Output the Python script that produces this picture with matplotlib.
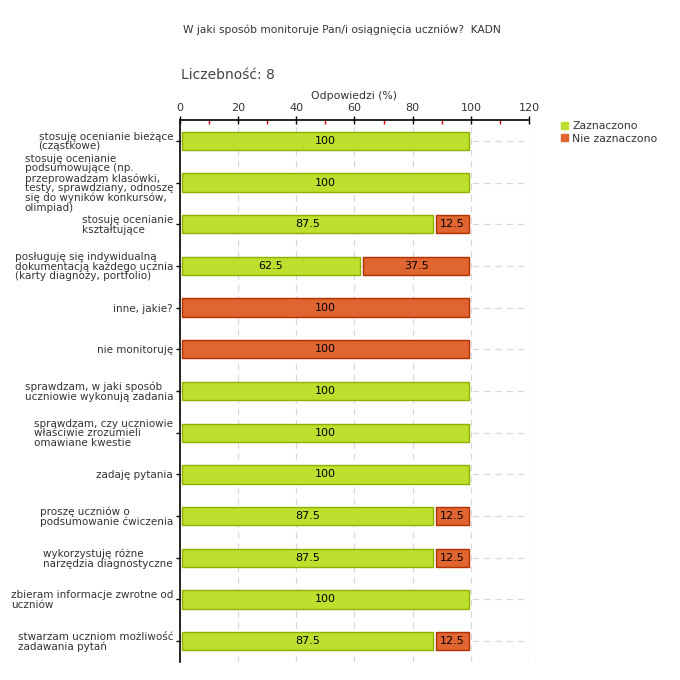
import numpy as np
import matplotlib
matplotlib.use("Agg")
from matplotlib import pyplot as plt

labels = [
    "stosuję ocenianie bieżące\n(cząstkowe)",
    "stosuję ocenianie\npodsumowujące (np.\nprzeprowadzam klasówki,\ntesty, sprawdziany, odnoszę\nsię do wyników konkursów,\nolimpiad)",
    "stosuję ocenianie\nkształtujące",
    "posługuję się indywidualną\ndokumentacją każdego ucznia\n(karty diagnozy, portfolio)",
    "inne, jakie?",
    "nie monitoruję",
    "sprawdzam, w jaki sposób\nuczniowie wykonują zadania",
    "sprawdzam, czy uczniowie\nwłaściwie zrozumieli\nomawiane kwestie",
    "zadaję pytania",
    "proszę uczniów o\npodsumowanie ćwiczenia",
    "wykorzystuję różne\nnarzędzia diagnostyczne",
    "zbieram informacje zwrotne od\nuczniów",
    "stwarzam uczniom możliwość\nzadawania pytań",
]
zaznaczono = [100, 100, 87.5, 62.5, 0, 0, 100, 100, 100, 87.5, 87.5, 100, 87.5]
nie_zaznaczono = [0, 0, 12.5, 37.5, 100, 100, 0, 0, 0, 12.5, 12.5, 0, 12.5]
series_names = ["Zaznaczono", "Nie zaznaczono"]
x_ticks = [0, 20, 40, 60, 80, 100, 120]

green, green_edge = "#bde02e", "#8fb000"
orange, orange_edge = "#e06530", "#b03000"
text_col = "#333333"

fig = plt.figure(figsize=(6.8, 6.8), dpi=100)
ax = fig.add_axes([180 / 680, 1 - 662 / 680, 349 / 680, 542 / 680])

y = np.arange(len(labels))
zn = np.array(zaznaczono)
nz = np.array(nie_zaznaczono)
h = 0.44
gap = 0.55

# green part
mask = zn > 0
ax.barh(y[mask], zn[mask] - gap * 2, left=gap, height=h, color=green,
        edgecolor=green_edge, linewidth=1, zorder=3)
for yi, v in zip(y[mask], zn[mask]):
    ax.text(v / 2, yi, f"{v:g}", ha="center", va="center", fontsize=8, color="black", zorder=4)

# orange part
mask = nz > 0
ax.barh(y[mask], nz[mask] - gap * 2, left=zn[mask] + gap, height=h, color=orange,
        edgecolor=orange_edge, linewidth=1, zorder=3)
for yi, s, v in zip(y[mask], zn[mask], nz[mask]):
    ax.text(s + v / 2, yi, f"{v:g}", ha="center", va="center", fontsize=8, color="black", zorder=4)

ax.set_xlim(0, 120)
ax.set_ylim(len(labels) - 0.5, -0.5)

ax.xaxis.tick_top()
ax.xaxis.set_label_position("top")
ax.set_xticks(x_ticks)
ax.set_xticklabels([str(t) for t in x_ticks], fontsize=8, color=text_col)
ax.set_xticks(np.arange(10, 120, 20), minor=True)
ax.tick_params(axis="x", which="major", direction="inout", length=6, width=1, color="black", pad=2)
ax.tick_params(axis="x", which="minor", direction="in", length=3, width=1, color="#dd0000")
ax.set_xlabel("Odpowiedzi (%)", fontsize=7.8, color=text_col, labelpad=3)

ax.set_yticks(y)
ax.set_yticklabels(labels, fontsize=7.5, color=text_col, linespacing=0.95, multialignment="left")
ax.tick_params(axis="y", direction="out", length=3, width=1, pad=2)

for s in ["right", "bottom"]:
    ax.spines[s].set_visible(False)
ax.spines["left"].set_linewidth(1.2)
ax.spines["top"].set_linewidth(1.2)

ax.grid(True, axis="both", which="major", linestyle=(0, (5, 4)), color="#d8d8d8", linewidth=0.9, zorder=0)
ax.set_axisbelow(True)

fig.text(183 / 680, 1 - 30 / 680, "W jaki sposób monitoruje Pan/i osiągnięcia uczniów?  KADN",
         fontsize=7.7, color=text_col, ha="left", va="center")
fig.text(181 / 680, 1 - 75 / 680, "Liczebność: 8", fontsize=10, color="#444444", ha="left", va="center")

# legend
handles = [plt.Rectangle((0, 0), 1, 1, color=green), plt.Rectangle((0, 0), 1, 1, color=orange)]
fig.legend(handles, series_names, loc="upper left", bbox_to_anchor=(556 / 680, 1 - 116 / 680),
           frameon=False, fontsize=7.8, handlelength=0.6, handleheight=0.6, handletextpad=0.4,
           labelspacing=0.2, borderpad=0, labelcolor=text_col)

fig.savefig("out.png", dpi=100)
